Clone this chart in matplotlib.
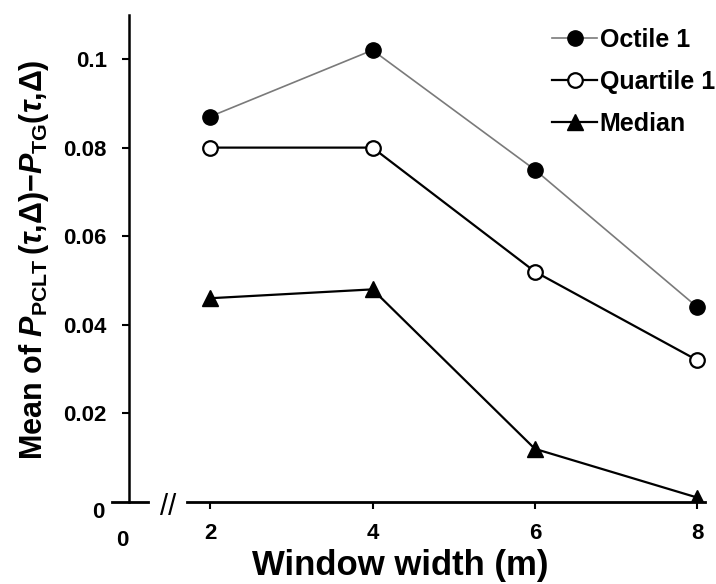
import matplotlib
matplotlib.use("Agg")
import matplotlib.pyplot as plt

# ---- data ----
window = [2, 4, 6, 8]
octile1 = [0.087, 0.102, 0.075, 0.044]
quartile1 = [0.080, 0.080, 0.052, 0.032]
median = [0.046, 0.048, 0.012, 0.001]
yticks = [0.02, 0.04, 0.06, 0.08, 0.1]
ytick_labels = ["0.02", "0.04", "0.06", "0.08", "0.1"]

plt.rcParams['font.family'] = ['Liberation Sans', 'DejaVu Sans']
plt.rcParams['font.weight'] = 'bold'
plt.rcParams['mathtext.fontset'] = 'custom'
plt.rcParams['mathtext.rm'] = 'Liberation Sans:bold'
plt.rcParams['mathtext.it'] = 'Liberation Sans:italic:bold'
plt.rcParams['mathtext.bf'] = 'Liberation Sans:bold'

fig = plt.figure(figsize=(7.16, 5.84), dpi=100)
ax = fig.add_axes([0.1517, 0.1404, 0.8335, 0.8344])

ax.plot(window, octile1, color='#7a7a7a', lw=1.2, marker='o', ms=11,
        mfc='black', mec='black', label='Octile 1', zorder=3)
ax.plot(window, quartile1, color='black', lw=1.6, marker='o', ms=10.5,
        mfc='white', mec='black', mew=1.6, label='Quartile 1', zorder=3)
ax.plot(window, median, color='black', lw=1.6, marker='^', ms=12,
        mfc='black', mec='black', label='Median', zorder=3)

ax.set_xlim(0.75, 8.1)
ax.set_ylim(0, 0.110)

for s in ['top', 'right', 'bottom']:
    ax.spines[s].set_visible(False)
ax.spines['left'].set_position(('data', 1.0))
ax.spines['left'].set_linewidth(1.8)

# broken x axis
ax.plot([0.79, 1.23], [0, 0], color='black', lw=2, clip_on=False, zorder=2)
ax.plot([1.72, 8.1], [0, 0], color='black', lw=2, clip_on=False, zorder=2)
fig.text(168 / 716, 1 - 507 / 584, '//', ha='center', va='center',
         fontsize=21, fontweight='normal')

ax.set_yticks(yticks)
ax.set_yticklabels(ytick_labels)
ax.set_xticks(window)
ax.tick_params(axis='y', direction='out', length=5, width=1.5, pad=11,
               labelsize=16)
ax.tick_params(axis='x', direction='out', length=5, width=1.5, pad=10,
               labelsize=16)

fig.text(98 / 716, 1 - 513 / 584, '0', ha='center', va='center',
         fontsize=16, fontweight='bold')
fig.text(122 / 716, 1 - 541 / 584, '0', ha='center', va='center',
         fontsize=16, fontweight='bold')

fig.text(400 / 716, 1 - 566 / 584, 'Window width (m)', ha='center',
         va='center', fontsize=25, fontweight='bold')
fig.text(34 / 716, 1 - 260 / 584,
         r'Mean of $P_{\mathrm{PCLT}}\,(\tau{,}\Delta)$' + '\u2212'
         + r'$P_{\mathrm{TG}}(\tau{,}\Delta)$',
         rotation=90, ha='center', va='center', fontsize=22,
         fontweight='bold')

ax.legend(loc='upper left', bbox_to_anchor=(552 / 716, 1 - 28 / 584),
          bbox_transform=fig.transFigure, frameon=False, fontsize=18,
          handlelength=1.8, handletextpad=0.1, labelspacing=0.72,
          borderaxespad=0, borderpad=0)

fig.savefig('out.png', dpi=100)
